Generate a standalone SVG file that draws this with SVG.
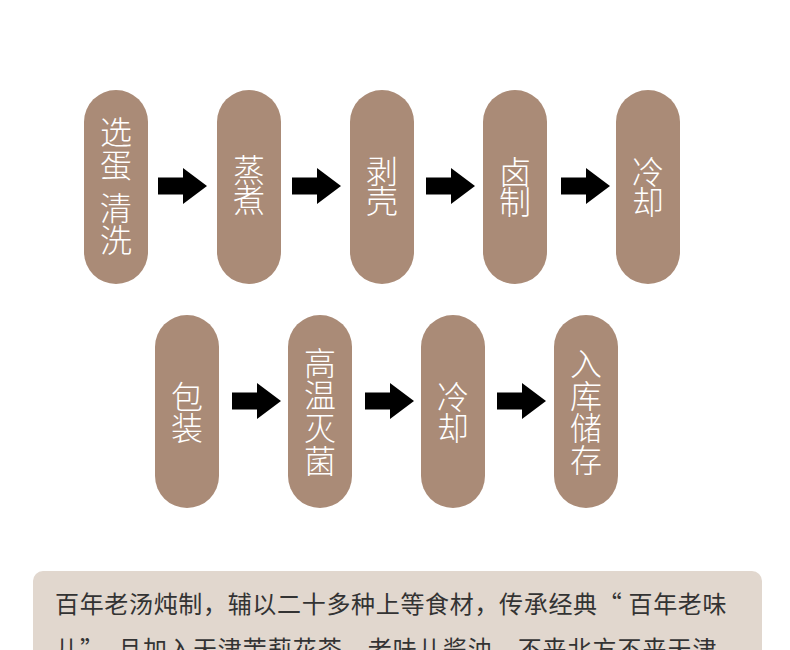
<svg xmlns="http://www.w3.org/2000/svg" width="790" height="650" viewBox="0 0 790 650">
<style>
.pill{fill:#aa8b77}
.pt{fill:#ffffff;font-family:"Noto Sans CJK SC","Noto Sans",sans-serif;font-size:32px;font-weight:300;text-anchor:middle}
.arrow{fill:#000000}
.body{fill:#333333;font-family:"Noto Sans CJK SC","Noto Sans",sans-serif;font-size:24px;letter-spacing:0.5px}
</style>
<defs>
<path id="arr" d="M0,-8.5 L25,-8.5 L25,-18 L49,0 L25,18 L25,8.5 L0,8.5 Z"/>
</defs>
<rect width="790" height="650" fill="#ffffff"/>
<g id="n1"><rect class="pill" x="84" y="90" width="64" height="194" rx="32"/>
<text class="pt"><tspan x="116" y="144">选</tspan><tspan x="116" y="177">蛋</tspan><tspan x="116" y="220">清</tspan><tspan x="116" y="252">洗</tspan></text></g>
<g id="n2"><rect class="pill" x="217" y="90" width="64" height="194" rx="32"/>
<text class="pt"><tspan x="249" y="182">蒸</tspan><tspan x="249" y="212">煮</tspan></text></g>
<g id="n3"><rect class="pill" x="350" y="90" width="64" height="194" rx="32"/>
<text class="pt"><tspan x="382" y="183">剥</tspan><tspan x="382" y="213">壳</tspan></text></g>
<g id="n4"><rect class="pill" x="483" y="90" width="64" height="194" rx="32"/>
<text class="pt"><tspan x="515" y="184">卤</tspan><tspan x="515" y="214">制</tspan></text></g>
<g id="n5"><rect class="pill" x="616" y="90" width="64" height="194" rx="32"/>
<text class="pt"><tspan x="648" y="184">冷</tspan><tspan x="648" y="214">却</tspan></text></g>
<g id="n6"><rect class="pill" x="155" y="315" width="64" height="193" rx="32"/>
<text class="pt"><tspan x="187" y="409">包</tspan><tspan x="187" y="440">装</tspan></text></g>
<g id="n7"><rect class="pill" x="288" y="315" width="64" height="193" rx="32"/>
<text class="pt"><tspan x="320" y="375">高</tspan><tspan x="320" y="407">温</tspan><tspan x="320" y="440">灭</tspan><tspan x="320" y="473">菌</tspan></text></g>
<g id="n8"><rect class="pill" x="421" y="315" width="64" height="193" rx="32"/>
<text class="pt"><tspan x="453" y="409">冷</tspan><tspan x="453" y="440">却</tspan></text></g>
<g id="n9"><rect class="pill" x="554" y="315" width="64" height="193" rx="32"/>
<text class="pt"><tspan x="586" y="376">入</tspan><tspan x="586" y="408">库</tspan><tspan x="586" y="440">储</tspan><tspan x="586" y="472">存</tspan></text></g>
<g id="connectors" class="arrow">
<use href="#arr" x="158" y="186"/>
<use href="#arr" x="292" y="186"/>
<use href="#arr" x="426" y="186"/>
<use href="#arr" x="561" y="186"/>
<use href="#arr" x="232" y="401"/>
<use href="#arr" x="365" y="401"/>
<use href="#arr" x="497" y="401"/>
</g>
<g id="note">
<rect x="33" y="571" width="729" height="120" rx="10" fill="#e1d7ce"/>
<text class="body" x="55" y="613" textLength="672" lengthAdjust="spacing">百年老汤炖制，辅以二十多种上等食材，传承经典“ 百年老味</text>
<text class="body" x="55" y="658" textLength="662" lengthAdjust="spacing">儿”，且加入天津茉莉花茶，老味儿酱油，不来北方不来天津</text>
</g>
</svg>
